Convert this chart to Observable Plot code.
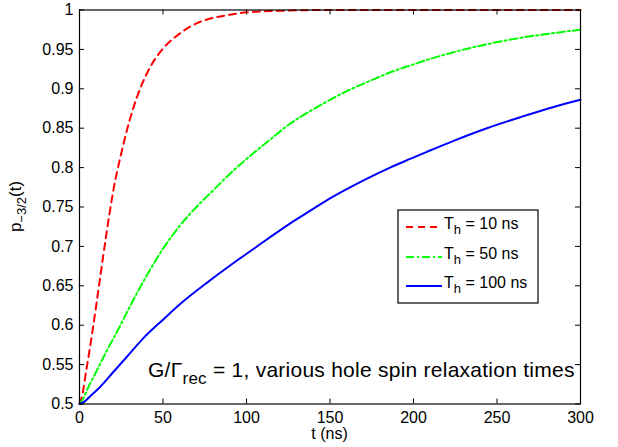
<!DOCTYPE html>
<html><head><meta charset="utf-8">
<script src="https://cdn.jsdelivr.net/npm/d3@7"></script>
<script src="https://cdn.jsdelivr.net/npm/@observablehq/plot@0.6"></script>
<style>
html,body{margin:0;padding:0;background:#fff;}
#chart svg{display:block;}
</style></head><body><div id="chart"></div>
<script>
// ---- data ----
const redT = [0,1,2,4,6,8,10,12,14,16,18,20,25,30,35,40,45,50,60,70,80,90,100,120,150,200,250,300];
const redP = [0.5,0.506,0.515,0.542,0.568,0.596,0.625,0.655,0.685,0.714,0.742,0.768,0.818,0.860,0.893,0.918,0.937,0.951,0.970,0.983,0.990,0.994,0.997,0.999,1.0,1.0,1.0,1.0];

const greenT = [0,2,5,10,15,20,25,30,40,50,60,70,80,90,100,115,125,140,150,160,175,185,200,210,225,245,265,285,300];
const greenP = [0.5,0.506,0.520,0.541,0.562,0.582,0.602,0.623,0.662,0.697,0.726,0.750,0.771,0.792,0.811,0.837,0.854,0.874,0.886,0.897,0.911,0.920,0.931,0.938,0.947,0.957,0.965,0.971,0.975];

const blueT = [0,3,6,12,20,28,38,50,62,77,91,105,115,126,138,150,162,174,186,198,208,224,244,264,284,300];
const blueP = [0.5,0.503,0.509,0.521,0.540,0.559,0.583,0.607,0.630,0.655,0.677,0.698,0.713,0.729,0.745,0.761,0.775,0.788,0.800,0.811,0.820,0.834,0.850,0.864,0.877,0.886];

const xTicks = [0,50,100,150,200,250,300];
const xTickLabels = ["0","50","100","150","200","250","300"];
const yTicks = [0.5,0.55,0.6,0.65,0.7,0.75,0.8,0.85,0.9,0.95,1];
const yTickLabels = ["0.5","0.55","0.6","0.65","0.7","0.75","0.8","0.85","0.9","0.95","1"];
const legendValues = ["10","50","100"];
const xLabel = "t (ns)";
const annotationMain = "G/Γ";
const annotationSub = "rec";
const annotationRest = " = 1, various hole spin relaxation times";

// ---- styles ----
const seriesStyle = [
  {stroke:"#ff0000", dash:"7,5"},
  {stroke:"#00ff00", dash:"8,3,2,3"},
  {stroke:"#0000ff", dash:null}
];

const W=618, H=447, mL=79, mR=38, mT=9.5, mB=43.5;
const pw = W-mL-mR, ph = H-mT-mB;
const rows = (T,P)=>T.map((t,i)=>({t, p:P[i]}));
const red = rows(redT, redP), green = rows(greenT, greenP), blue = rows(blueT, blueP);
const FONT = "'Liberation Sans', Arial, Helvetica, sans-serif";

const lineOpts = (s)=> ({x:"t", y:"p", stroke:s.stroke, strokeWidth:2, strokeDasharray:s.dash || undefined, curve:"monotone-x"});

const plot = Plot.plot({
  width:W, height:H, marginLeft:mL, marginRight:mR, marginTop:mT, marginBottom:mB,
  style:{fontFamily:FONT, fontSize:"16px", color:"#000", background:"#fff", overflow:"visible"},
  x:{domain:[0,300]},
  y:{domain:[0.5,1]},
  marks:[
    Plot.line(red, lineOpts(seriesStyle[0])),
    Plot.line(green, lineOpts(seriesStyle[1])),
    Plot.line(blue, lineOpts(seriesStyle[2])),
    Plot.frame({stroke:"#000", strokeWidth:1.2}),
    Plot.ruleX(xTicks, {x:d=>d, insetTop: ph-5, stroke:"#000"}),
    Plot.ruleX(xTicks, {x:d=>d, insetBottom: ph-5, stroke:"#000"}),
    Plot.ruleY(yTicks, {y:d=>d, insetRight: pw-5, stroke:"#000"}),
    Plot.ruleY(yTicks, {y:d=>d, insetLeft: pw-5, stroke:"#000"}),
    Plot.axisX({ticks:xTicks, tickSize:0, tickPadding:8, label:null,
      tickFormat:d=>xTickLabels[xTicks.indexOf(d)]}),
    Plot.axisY({ticks:yTicks, tickSize:0, tickPadding:6, label:null,
      tickFormat:d=>yTickLabels[yTicks.findIndex(v=>Math.abs(v-d)<1e-9)]})
  ]
});
document.getElementById("chart").appendChild(plot);

const xs = plot.scale("x"), ys = plot.scale("y");
const svg = d3.select(plot);

// x label
svg.append("text")
  .attr("x", (xs.apply(0)+xs.apply(300))/2).attr("y", 439)
  .attr("text-anchor","middle").attr("font-family",FONT).attr("font-size",16).attr("fill","#000")
  .text(xLabel);

// y label  p_{-3/2}(t)
const yl = svg.append("text")
  .attr("transform", `translate(21,${(ys.apply(0.5)+ys.apply(1))/2}) rotate(-90)`)
  .attr("text-anchor","middle").attr("font-family",FONT).attr("font-size",17).attr("fill","#000");
yl.append("tspan").text("p");
yl.append("tspan").attr("dy",5).attr("font-size",13).text("−3/2");
yl.append("tspan").attr("dy",-5).text("(t)");

// annotation
const an = svg.append("text")
  .attr("x",148).attr("y",377).attr("text-anchor","start")
  .attr("font-family",FONT).attr("font-size",21).attr("letter-spacing",0.25).attr("fill","#000");
an.append("tspan").text(annotationMain);
an.append("tspan").attr("dy",7).attr("font-size",17).text(annotationSub);
an.append("tspan").attr("dy",-7).text(annotationRest);

// legend
const lg = svg.append("g");
lg.append("rect").attr("x",398).attr("y",210).attr("width",140).attr("height",93)
  .attr("fill","#fff").attr("stroke","#000").attr("stroke-width",1.2);
const rowY = [227, 257, 286];
legendValues.forEach((v,i)=>{
  const s = seriesStyle[i];
  lg.append("line").attr("x1",406).attr("x2",442).attr("y1",rowY[i]).attr("y2",rowY[i])
    .attr("stroke",s.stroke).attr("stroke-width",2).attr("stroke-dasharray",s.dash);
  const t = lg.append("text").attr("x",444).attr("y",rowY[i]+1.5).attr("text-anchor","start")
    .attr("font-family",FONT).attr("font-size",16).attr("fill","#000");
  t.append("tspan").text("T");
  t.append("tspan").attr("dy",5.5).attr("font-size",13).text("h");
  t.append("tspan").attr("dy",-5.5).text(" = " + v + " ns");
});
</script>
</body></html>
